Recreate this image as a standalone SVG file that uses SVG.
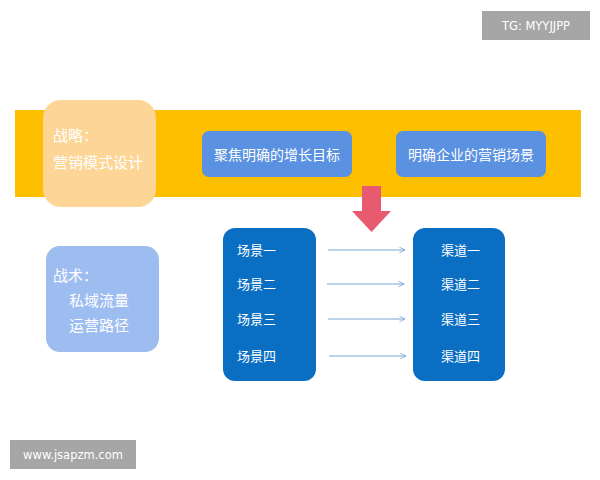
<svg xmlns="http://www.w3.org/2000/svg" width="600" height="480" viewBox="0 0 600 480">
<defs>
<style>
text{font-family:"Noto Sans CJK SC","Liberation Sans",sans-serif;fill:#fff}
.wm{font-family:"DejaVu Sans",sans-serif;font-size:11.5px}
.col{fill:#0a6fc2}
.lbl{font-size:13px}
.cn{stroke:#7aa6d6;stroke-width:1;fill:none;marker-end:url(#ah)}
</style>
<marker id="ah" viewBox="0 0 10 10" refX="9" refY="5" markerWidth="7" markerHeight="7" orient="auto"><path d="M1,1 L9,5 L1,9" fill="none" stroke="#7aa6d6" stroke-width="1.2"/></marker>
</defs>
<rect width="600" height="480" fill="#fff"/>
<g id="band"><rect x="15" y="110" width="566" height="87" fill="#fdbf00"/></g>
<g id="strategy"><rect x="43" y="100" width="113" height="107" rx="18" fill="#fdd596"/>
<text x="53" y="141" font-size="15">战略：</text><text x="53" y="168" font-size="15">营销模式设计</text></g>
<g id="goal"><rect x="202" y="131" width="150" height="46" rx="7" fill="#5a91e0"/><text x="277" y="160" font-size="14" text-anchor="middle">聚焦明确的增长目标</text></g>
<g id="scene"><rect x="396" y="131" width="150" height="46" rx="7" fill="#5a91e0"/><text x="471" y="160" font-size="14" text-anchor="middle">明确企业的营销场景</text></g>
<g id="downarrow"><path d="M362,186 H381 V211 H391 L371.5,232 L352,211 H362 Z" fill="#e85a70"/></g>
<g id="tactics"><rect x="46" y="246" width="113" height="106" rx="14" fill="#9dbcf0"/>
<text x="53" y="281" font-size="15">战术：</text><text x="69" y="306" font-size="15">私域流量</text><text x="69" y="331" font-size="15">运营路径</text></g>
<g id="scenes"><rect class="col" x="223" y="228" width="93" height="153" rx="12"/>
<text class="lbl" x="237" y="255">场景一</text><text class="lbl" x="237" y="289">场景二</text><text class="lbl" x="237" y="324">场景三</text><text class="lbl" x="237" y="361">场景四</text></g>
<g id="channels"><rect class="col" x="413" y="228" width="92" height="153" rx="12"/>
<text class="lbl" x="441" y="255">渠道一</text><text class="lbl" x="441" y="289">渠道二</text><text class="lbl" x="441" y="324">渠道三</text><text class="lbl" x="441" y="361">渠道四</text></g>
<g id="connectors">
<line class="cn" x1="328" y1="250" x2="405" y2="250"/>
<line class="cn" x1="327" y1="284" x2="404" y2="284"/>
<line class="cn" x1="328" y1="319" x2="405" y2="319"/>
<line class="cn" x1="329" y1="356" x2="406" y2="356"/>
</g>
<g id="wm1"><rect x="482" y="11" width="108" height="29" fill="#a6a6a6"/><text class="wm" x="536" y="30" text-anchor="middle">TG: MYYJJPP</text></g>
<g id="wm2"><rect x="10" y="440" width="126" height="29" fill="#a6a6a6"/><text class="wm" x="73" y="459" text-anchor="middle">www.jsapzm.com</text></g>
</svg>
